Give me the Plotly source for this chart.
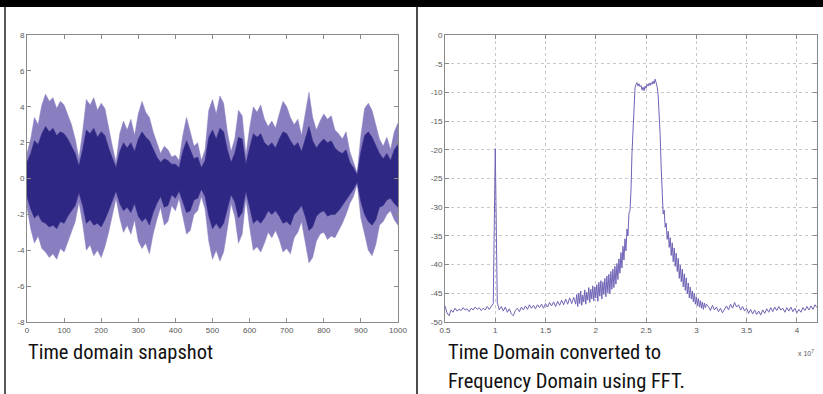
import plotly.graph_objects as go

W, H = 823, 394

# ---------------- Left panel: time-domain snapshot (envelopes) ----------------
time_samples = list(range(0, 1001, 10))

outer_upper = [1.4, 2.2, 3.4, 3.0, 4.1, 4.7, 4.3, 4.5, 3.9, 4.3,
               4.1, 3.6, 3.0, 2.2, 1.1, 2.6, 4.4, 4.1, 4.5, 3.8,
               4.2, 3.9, 2.8, 1.8, 0.9, 2.5, 3.2, 2.7, 3.3, 2.4,
               3.6, 4.3, 3.7, 3.4, 2.6, 2.0, 1.4, 1.8, 1.6, 1.2,
               1.3, 1.0, 2.4, 3.4, 2.6, 1.8, 2.0, 1.0, 1.6, 3.8,
               4.4, 3.6, 4.6, 4.2, 2.6, 1.5, 2.2, 3.8, 3.5, 1.3,
               2.8, 4.0, 3.7, 4.1, 3.3, 2.9, 3.2, 2.8, 3.6, 4.3,
               4.0, 3.4, 3.0, 3.3, 2.4, 3.6, 4.8, 3.4, 2.7, 3.2,
               3.6, 3.3, 3.5, 2.7, 2.5, 2.2, 2.6, 1.5, 0.9, 0.3,
               2.4, 3.9, 4.2, 3.8, 3.0, 2.2, 1.8, 2.3, 1.6, 2.6,
               3.1]
outer_lower = [-1.6, -2.8, -3.6, -3.2, -3.9, -4.1, -4.4, -4.2, -4.5, -3.9,
               -4.1, -3.5, -3.0, -2.4, -1.3, -2.5, -4.0, -3.7, -4.3, -4.0,
               -4.4, -3.8, -3.0, -2.0, -1.1, -2.2, -3.0, -2.6, -3.1, -2.3,
               -3.5, -3.9, -3.6, -4.2, -3.1, -2.3, -1.6, -2.6, -2.4, -1.5,
               -1.8, -1.1, -2.2, -3.1, -2.9, -2.0, -1.8, -1.0, -1.7, -3.5,
               -4.5, -4.0, -4.6, -4.1, -2.8, -1.4, -2.1, -3.6, -3.1, -1.1,
               -2.7, -4.0, -3.8, -4.1, -3.6, -3.0, -3.3, -2.9, -3.4, -4.1,
               -3.9, -4.2, -3.3, -3.0, -2.4, -3.5, -4.7, -4.4, -3.5, -3.1,
               -3.0, -3.4, -3.2, -3.3, -2.9, -2.5, -2.0, -1.4, -1.0, -0.3,
               -2.2, -3.2, -4.0, -4.3, -3.7, -2.6, -2.4, -2.0, -1.8, -2.3,
               -2.6]
inner_upper = [0.9, 1.4, 2.1, 1.9, 2.5, 2.9, 2.6, 2.8, 2.4, 2.6,
               2.5, 2.2, 1.8, 1.4, 0.7, 1.6, 2.7, 2.5, 2.8, 2.3,
               2.6, 2.4, 1.7, 1.1, 0.6, 1.5, 2.0, 1.7, 2.0, 1.5,
               2.2, 2.6, 2.3, 2.1, 1.6, 1.2, 0.9, 1.1, 1.0, 0.8,
               0.8, 0.6, 1.5, 2.1, 1.6, 1.1, 1.2, 0.6, 1.0, 2.3,
               2.7, 2.2, 2.8, 2.6, 1.6, 0.9, 1.4, 2.3, 2.2, 0.8,
               1.7, 2.5, 2.3, 2.5, 2.0, 1.8, 2.0, 1.7, 2.2, 2.6,
               2.5, 2.1, 1.8, 2.0, 1.5, 2.2, 2.9, 2.1, 1.7, 2.0,
               2.2, 2.0, 2.1, 1.7, 1.5, 1.4, 1.6, 0.9, 0.6, 0.2,
               1.5, 2.4, 2.6, 2.3, 1.8, 1.4, 1.1, 1.4, 1.0, 1.6,
               1.9]
inner_lower = [-1.0, -1.7, -2.2, -2.0, -2.4, -2.5, -2.7, -2.6, -2.8, -2.4,
               -2.5, -2.1, -1.8, -1.5, -0.8, -1.5, -2.5, -2.3, -2.6, -2.5,
               -2.7, -2.3, -1.8, -1.2, -0.7, -1.4, -1.8, -1.6, -1.9, -1.4,
               -2.1, -2.4, -2.2, -2.6, -1.9, -1.4, -1.0, -1.6, -1.5, -0.9,
               -1.1, -0.7, -1.3, -1.9, -1.8, -1.2, -1.1, -0.6, -1.0, -2.1,
               -2.8, -2.5, -2.8, -2.5, -1.7, -0.9, -1.3, -2.2, -1.9, -0.7,
               -1.6, -2.5, -2.3, -2.5, -2.2, -1.8, -2.0, -1.8, -2.1, -2.5,
               -2.4, -2.6, -2.0, -1.8, -1.5, -2.1, -2.9, -2.7, -2.1, -1.9,
               -1.8, -2.1, -2.0, -2.0, -1.8, -1.5, -1.2, -0.9, -0.6, -0.2,
               -1.3, -2.0, -2.4, -2.6, -2.3, -1.6, -1.5, -1.2, -1.1, -1.4,
               -1.6]

time_xticks = [0, 100, 200, 300, 400, 500, 600, 700, 800, 900, 1000]
time_yticks = [-8, -6, -4, -2, 0, 2, 4, 6, 8]
time_yticklabels = ["-8", "-6", "-4", "-2", "0", "2", "4", "6", "8"]

# ---------------- Right panel: FFT magnitude (x in units of 1e7) ----------------
freq_seg1 = [round(0.50 + 0.02 * i, 2) for i in range(66)]     # 0.50 .. 1.80
freq_seg2 = [round(1.81 + 0.01 * i, 2) for i in range(130)]    # 1.81 .. 3.10
freq_seg3 = [round(3.12 + 0.02 * i, 2) for i in range(55)]     # 3.12 .. 4.20

mag_seg1 = [-47.2, -48.4, -48.9, -47.9, -48.3, -47.6, -48.1, -47.8, -48.0, -47.5,
            -47.9, -47.7, -48.2, -47.6, -47.9, -47.4, -47.8, -47.5, -48.0, -47.6,
            -47.9, -47.3, -47.8, -47.2, -46.8, -19.8, -46.6, -47.9, -47.3, -48.1,
            -47.4, -48.3, -47.7, -48.6, -48.9, -48.0, -47.6, -48.2, -47.4, -47.9,
            -47.2, -47.8, -47.0, -47.6, -47.1, -47.7, -47.0, -47.5, -46.9, -47.6,
            -46.8, -47.4, -46.6, -47.2, -46.5, -47.3, -46.4, -47.1, -46.2, -47.0,
            -46.0, -46.9, -45.8, -46.8, -45.7, -46.9]
mag_seg2 = [-45.2, -47.3, -45.0, -46.8, -44.6, -47.1, -45.3, -46.5, -44.4, -46.9,
            -44.8, -46.2, -44.0, -46.6, -44.3, -46.0, -43.7, -46.3, -43.9,
            -45.8, -43.5, -46.4, -43.1, -45.5, -42.8, -46.0, -43.0, -45.2, -42.4,
            -45.6, -42.0, -44.9, -41.7, -45.1, -41.2, -44.3, -40.8, -44.0, -40.3,
            -43.4, -39.8, -42.6, -39.0, -41.5, -37.9, -40.6, -36.8, -39.2, -35.5,
            -37.6, -33.8, -35.0, -31.0,
            -30.6, -27.0, -20.5, -15.5, -11.5, -9.2,
            -8.6, -8.3, -8.9, -8.5, -9.0, -8.8, -9.6, -9.1, -9.7, -8.9,
            -9.3, -8.6, -8.9, -8.4, -8.8, -8.3, -8.6, -8.0, -8.5, -7.7,
            -8.3, -9.0, -10.4,
            -13.0, -17.5, -23.0, -29.0, -31.2, -30.5,
            -33.5, -32.8, -35.6, -34.2, -37.0, -35.3, -38.4, -36.2, -39.5, -37.1,
            -40.3, -38.0, -41.2, -38.9, -42.4, -40.1, -43.0, -40.8, -43.9, -41.6,
            -44.5, -42.3, -45.1, -43.2, -45.8, -43.9, -46.0, -44.6, -46.5, -45.0,
            -46.9, -45.6, -47.2, -45.9, -47.4, -46.3, -47.6, -46.5, -47.8, -46.7,
            -47.5, -46.9]
mag_seg3 = [-47.3, -48.0, -47.1, -47.9, -47.4, -48.2, -47.6, -48.4, -47.8, -47.2,
            -47.9, -46.9, -47.6, -46.6, -47.4, -47.0, -47.9, -47.3, -48.1, -47.6,
            -48.5, -47.8, -48.6, -47.9, -48.7, -48.1, -48.8, -47.9, -48.5, -47.7,
            -48.3, -47.5, -48.2, -47.4, -48.0, -47.3, -47.9, -47.6, -48.3, -47.5,
            -48.1, -47.4, -48.2, -47.6, -48.4, -47.8, -48.3, -47.5, -48.0, -47.3,
            -47.9, -47.2, -47.8, -47.0, -47.5]

freq = freq_seg1 + freq_seg2 + freq_seg3
magnitude = mag_seg1 + mag_seg2 + mag_seg3

freq_xticks = [0.5, 1, 1.5, 2, 2.5, 3, 3.5, 4]
freq_xticklabels = ["0.5", "1", "1.5", "2", "2.5", "3", "3.5", "4"]
freq_yticks = [-50, -45, -40, -35, -30, -25, -20, -15, -10, -5, 0]
freq_yticklabels = ["-50", "-45", "-40", "-35", "-30", "-25", "-20", "-15", "-10", "-5", "0"]

caption_left = "Time domain snapshot"
caption_right_1 = "Time Domain converted to"
caption_right_2 = "Frequency Domain using FFT."

# ---------------- Styling ----------------
LIGHT = "rgb(136,126,192)"
DARK = "rgb(46,40,132)"
FFT_COLOR = "rgb(110,100,182)"
AXIS_COLOR = "#8a8a8a"
TICK_FONT = dict(family="Liberation Sans, Arial, sans-serif", size=8, color="#555555")
CAPTION_FONT = "Liberation Sans Narrow, Roboto Condensed, DejaVu Sans Condensed, Arial Narrow, sans-serif"
CAP_SIZE = 20.5


def px_x(p):
    return p / W


def px_y(p):
    return 1 - p / H


fig = go.Figure()

# left: outer (light) band
fig.add_trace(go.Scatter(x=time_samples, y=outer_upper, mode="lines", line=dict(width=0.5, color=LIGHT),
                         xaxis="x", yaxis="y", showlegend=False, hoverinfo="skip"))
fig.add_trace(go.Scatter(x=time_samples, y=outer_lower, mode="lines", line=dict(width=0.5, color=LIGHT),
                         fill="tonexty", fillcolor=LIGHT, xaxis="x", yaxis="y", showlegend=False, hoverinfo="skip"))
# left: inner (dark) band
fig.add_trace(go.Scatter(x=time_samples, y=inner_upper, mode="lines", line=dict(width=0.5, color=DARK),
                         xaxis="x", yaxis="y", showlegend=False, hoverinfo="skip"))
fig.add_trace(go.Scatter(x=time_samples, y=inner_lower, mode="lines", line=dict(width=0.5, color=DARK),
                         fill="tonexty", fillcolor=DARK, xaxis="x", yaxis="y", showlegend=False, hoverinfo="skip"))

# right: spectrum
fig.add_trace(go.Scatter(x=freq, y=magnitude, mode="lines", line=dict(width=1, color=FFT_COLOR),
                         xaxis="x2", yaxis="y2", showlegend=False, hoverinfo="skip"))

ydom = [px_y(322), px_y(35)]
common_axis = dict(showline=True, linecolor=AXIS_COLOR, linewidth=1, mirror="ticks", ticks="inside",
                   ticklen=4, tickcolor=AXIS_COLOR, tickfont=TICK_FONT, zeroline=False, fixedrange=True,
                   automargin=False)

fig.update_layout(
    width=W, height=H,
    margin=dict(l=0, r=0, t=0, b=0, pad=0, autoexpand=False),
    paper_bgcolor="white", plot_bgcolor="white",
    xaxis=dict(domain=[px_x(27), px_x(398)], range=[0, 1000], tickvals=time_xticks,
               anchor="y", showgrid=False, **common_axis),
    yaxis=dict(domain=ydom, range=[-8, 8], tickvals=time_yticks, ticktext=time_yticklabels,
               anchor="x", showgrid=False, **common_axis),
    xaxis2=dict(domain=[px_x(445), px_x(817)], range=[0.5, 4.2], tickvals=freq_xticks,
                ticktext=freq_xticklabels, anchor="y2", showgrid=True, gridcolor="#c8c8c8",
                griddash="dot", gridwidth=1, **common_axis),
    yaxis2=dict(domain=ydom, range=[-50, 0], tickvals=freq_yticks, ticktext=freq_yticklabels,
                anchor="x2", showgrid=True, gridcolor="#c8c8c8", griddash="dot", gridwidth=1,
                **common_axis),
    shapes=[
        dict(type="rect", xref="paper", yref="paper", x0=0, x1=1, y0=px_y(7), y1=1,
             fillcolor="black", line=dict(width=0), layer="above"),
        dict(type="line", xref="paper", yref="paper", x0=px_x(5), x1=px_x(5), y0=0, y1=px_y(7),
             line=dict(color="#222222", width=1.5)),
        dict(type="line", xref="paper", yref="paper", x0=px_x(417), x1=px_x(417), y0=0, y1=px_y(7),
             line=dict(color="#111111", width=1.5)),
    ],
    annotations=[
        dict(text=caption_left, xref="paper", yref="paper", x=px_x(26), y=px_y(352),
             xanchor="left", yanchor="middle", showarrow=False, align="left",
             font=dict(family=CAPTION_FONT, size=CAP_SIZE, color="#111111")),
        dict(text=caption_right_1, xref="paper", yref="paper", x=px_x(446), y=px_y(352),
             xanchor="left", yanchor="middle", showarrow=False, align="left",
             font=dict(family=CAPTION_FONT, size=CAP_SIZE, color="#111111")),
        dict(text=caption_right_2, xref="paper", yref="paper", x=px_x(446), y=px_y(381),
             xanchor="left", yanchor="middle", showarrow=False, align="left",
             font=dict(family=CAPTION_FONT, size=CAP_SIZE, color="#111111")),
        dict(text="x 10<sup>7</sup>", xref="paper", yref="paper", x=px_x(816), y=px_y(353),
             xanchor="right", yanchor="middle", showarrow=False,
             font=dict(family="Liberation Sans, Arial, sans-serif", size=7, color="#555555")),
    ],
)

fig.write_html(
    "out.html",
    config={"displayModeBar": False},
    post_script="document.body.style.margin='0px';document.body.style.overflow='hidden';",
)
